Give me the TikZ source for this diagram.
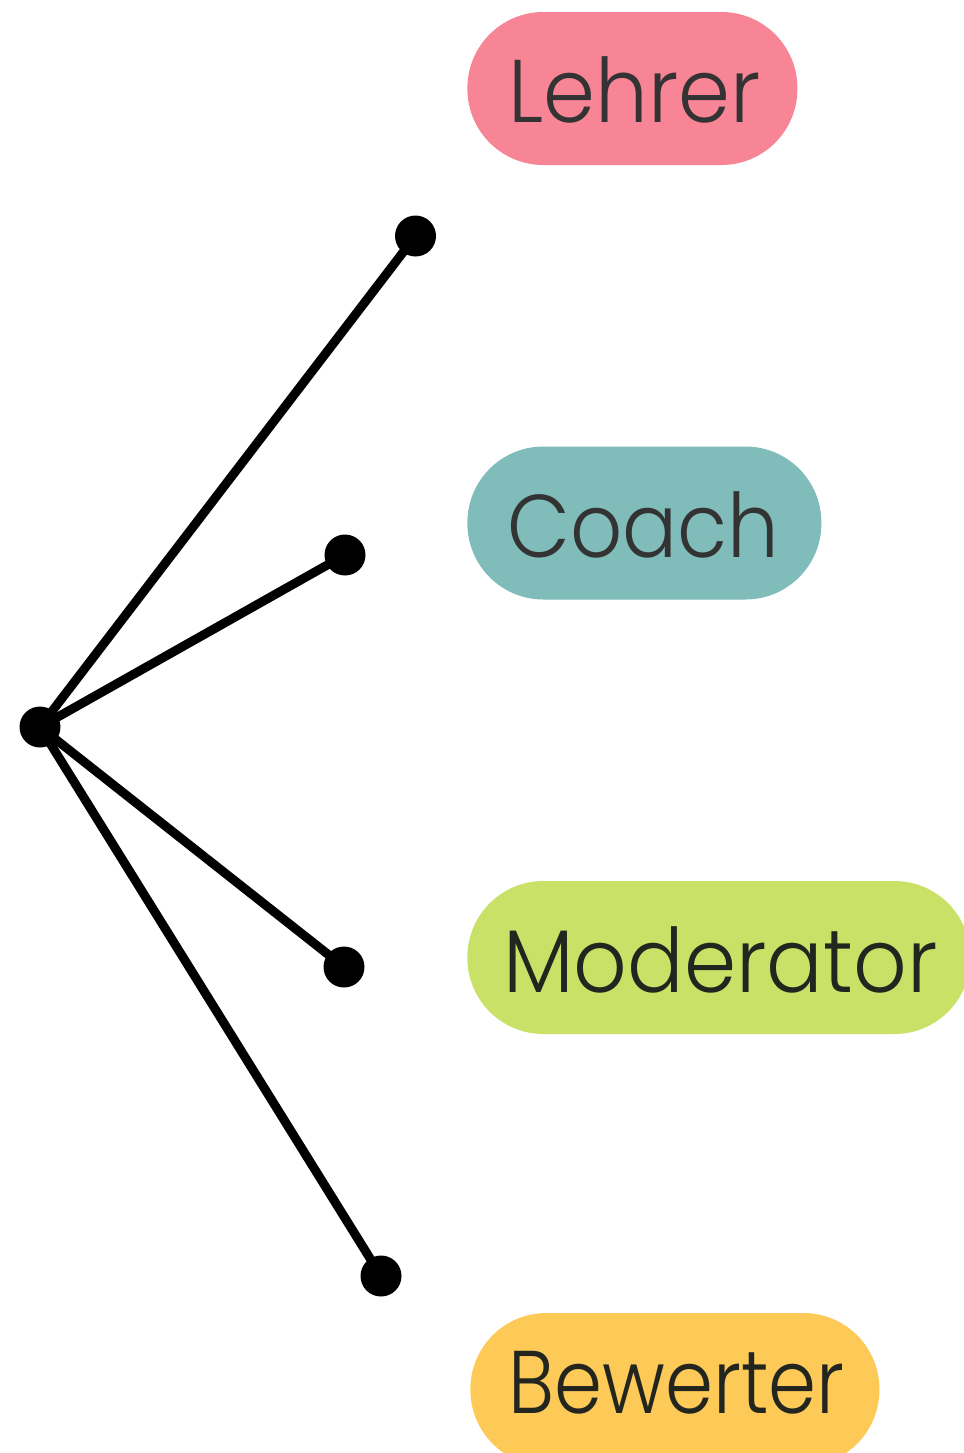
\documentclass[tikz,border=0pt]{standalone}
\usepackage{fontspec}
\usepackage{graphicx}
\setmainfont{Poppins Light}
\definecolor{pinkrole}{HTML}{F78595}
\definecolor{tealrole}{HTML}{7FBCBA}
\definecolor{limerole}{HTML}{C9E166}
\definecolor{amberrole}{HTML}{FDC957}
\definecolor{inkA}{HTML}{333333}
\definecolor{inkB}{HTML}{23251F}
% word set at a fixed width, keeping its height
\newcommand{\fitword}[2]{\resizebox{#1}{\height}{#2}}
\begin{document}
\begin{tikzpicture}[x=0.5pt,y=-0.5pt,
  pill/.style={rectangle, rounded corners=38pt, minimum height=76.5pt,
    inner sep=0pt, anchor=west},
  word/.style={anchor=base west, inner sep=0pt, font=\fontsize{44.5}{48}\selectfont},
  spoke/.style={line width=4.5pt},
  dot/.style={circle, fill=black, inner sep=0pt, minimum size=20.5pt}]
\clip (0,0) rectangle (964,1453);
% role pills
\node[pill, fill=pinkrole, minimum width=165pt] (lehrer) at (467,88.5) {};
\node[pill, fill=tealrole, minimum width=177pt] (coach) at (467,523) {};
\node[pill, fill=limerole, minimum width=251.5pt] (moderator) at (467,957.5) {};
\node[pill, fill=amberrole, minimum width=204.5pt] (bewerter) at (470,1389.5) {};
% role names
\node[word, text=inkA] (lehrerT) at (508,122) {\fitword{126pt}{Lehrer}};
\node[word, text=inkA] (coachT) at (507,557) {\fitword{136pt}{Coach}};
\node[word, text=inkB] (moderatorT) at (503,992) {\fitword{217pt}{Moderator}};
\node[word, text=inkB] (bewerterT) at (508,1413) {\fitword{168pt}{Bewerter}};
% hub and spoke ends
\node[dot] (hub) at (40,727) {};
\node[dot] (e1) at (415.5,236) {};
\node[dot] (e2) at (345,555) {};
\node[dot] (e3) at (344,967) {};
\node[dot] (e4) at (381,1276) {};
\foreach \e in {e1,e2,e3,e4}
  \draw[spoke] (hub.center) -- (\e.center);
\end{tikzpicture}
\end{document}
